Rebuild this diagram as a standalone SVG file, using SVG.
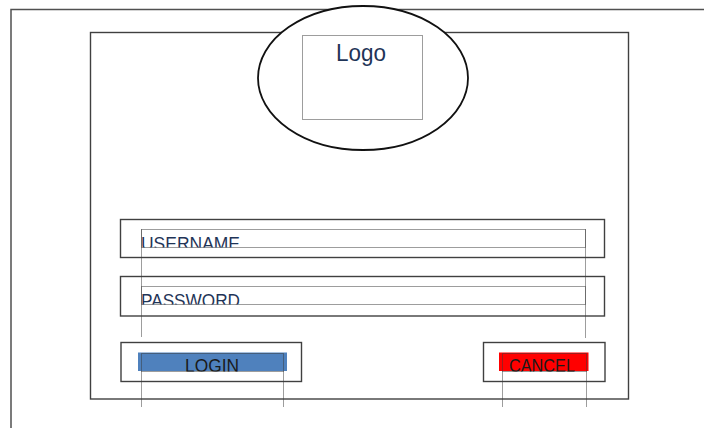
<svg xmlns="http://www.w3.org/2000/svg" width="704" height="428" viewBox="0 0 704 428">
<style>
.frame{fill:none;stroke:#505050;stroke-width:1.5}
.box{fill:#fff;stroke:#404040;stroke-width:1.4}
.dot{fill:none;stroke:#3a3a3a;stroke-width:1;stroke-dasharray:1 1}
.lbl{font-family:"Liberation Sans",Arial,sans-serif;fill:#1f3457}
.btn{font-family:"Liberation Sans",Arial,sans-serif;fill:#1a1a1a}
</style>
<defs>
<clipPath id="cu"><rect x="130" y="225" width="460" height="22.5"/></clipPath>
<clipPath id="cp"><rect x="130" y="282" width="460" height="22.5"/></clipPath>
<clipPath id="cl"><rect x="130" y="350" width="170" height="21.5"/></clipPath>
<clipPath id="cc"><rect x="490" y="350" width="110" height="21.5"/></clipPath>
</defs>
<rect width="704" height="428" fill="#fff"/>
<path class="frame" d="M11,428 V9.5 H704"/>
<rect id="screen" class="box" x="90.5" y="32.5" width="538" height="366.5"/>
<g id="logo">
<ellipse cx="363" cy="78" rx="105" ry="72" fill="#fff" stroke="#111" stroke-width="1.8"/>
<rect class="dot" x="302.5" y="35.5" width="120" height="84"/>
<text class="lbl" x="361" y="61" font-size="24.5" text-anchor="middle" textLength="50" lengthAdjust="spacingAndGlyphs">Logo</text>
</g>
<g id="username">
<rect class="box" x="120.5" y="219.5" width="484" height="38"/>
<rect class="dot" x="141.5" y="229.5" width="444" height="18"/>
<text class="lbl" x="141" y="250" font-size="19" textLength="99" lengthAdjust="spacingAndGlyphs" clip-path="url(#cu)">USERNAME</text>
</g>
<g id="password">
<rect class="box" x="120.5" y="276.5" width="484" height="39.5"/>
<rect class="dot" x="141.5" y="286.5" width="444" height="18"/>
<text class="lbl" x="141" y="306.8" font-size="19" textLength="99" lengthAdjust="spacingAndGlyphs" clip-path="url(#cp)">PASSWORD</text>
</g>
<g id="login">
<rect class="box" x="121" y="342.5" width="180.5" height="39"/>
<rect x="138" y="352.5" width="149" height="18.5" fill="#4f81bd"/>
<rect class="dot" x="141.5" y="353.5" width="142" height="18"/>
<text class="btn" x="212" y="372.3" font-size="18.5" text-anchor="middle" textLength="54" lengthAdjust="spacingAndGlyphs" clip-path="url(#cl)">LOGIN</text>
</g>
<g id="cancel">
<rect class="box" x="483.5" y="342.5" width="121.5" height="39"/>
<rect x="499" y="352.5" width="89.5" height="18.5" fill="#ff0000"/>
<rect class="dot" x="502.5" y="353.5" width="84" height="18"/>
<text class="btn" x="542" y="372.3" font-size="18.5" text-anchor="middle" textLength="66" lengthAdjust="spacingAndGlyphs" clip-path="url(#cc)">CANCEL</text>
</g>
<g id="connectors">
<line class="dot" x1="141.5" y1="229.5" x2="141.5" y2="337"/>
<line class="dot" x1="585.5" y1="229.5" x2="585.5" y2="338"/>
<line class="dot" x1="141.5" y1="371.5" x2="141.5" y2="407"/>
<line class="dot" x1="283.5" y1="371.5" x2="283.5" y2="407"/>
<line class="dot" x1="502.5" y1="371.5" x2="502.5" y2="407"/>
<line class="dot" x1="586.5" y1="371.5" x2="586.5" y2="407"/>
</g>
</svg>
